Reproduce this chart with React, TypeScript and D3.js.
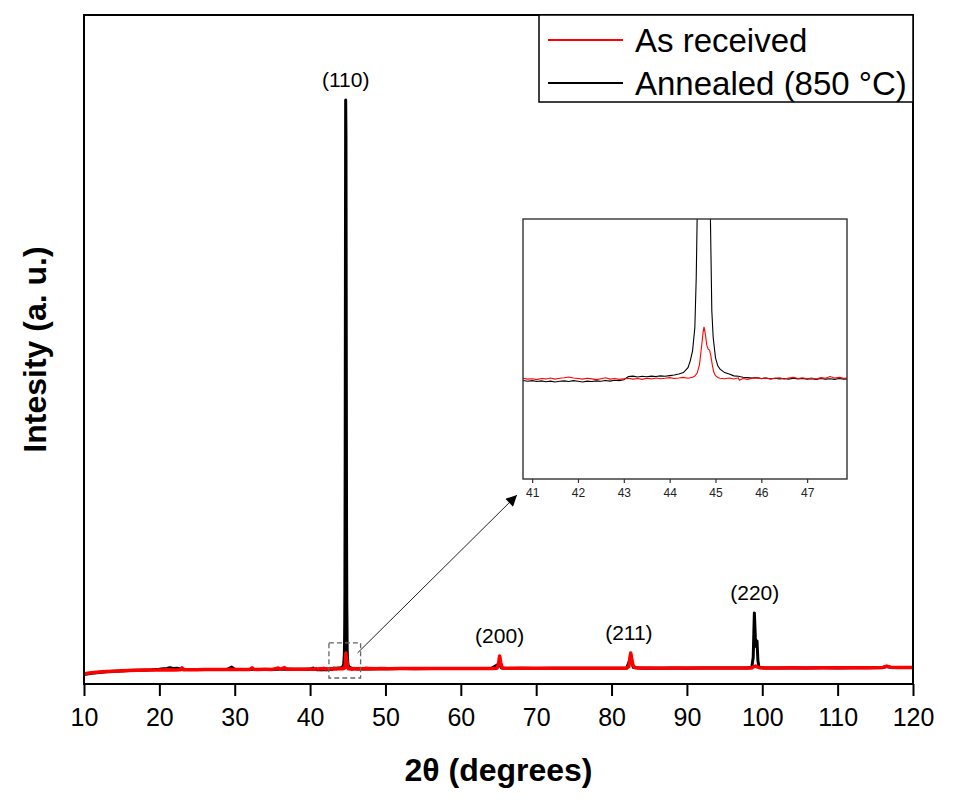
import React, { useEffect, useRef } from "react"
import * as d3 from "d3"

const seriesNames = ["As received", "Annealed (850 °C)"]
const seriesColors = ["#ff0000", "#000000"]

// diffraction scans, [2θ, counts]
const asReceived: [number, number][] = [
  [10, 150], [10.5, 160], [11, 168], [12, 178], [13, 186], [14, 192], [15, 198], [16, 200],
  [17, 204], [18, 206], [19, 208], [20, 210], [21, 212], [22, 211], [22.8, 214], [23.0, 240],
  [23.2, 212], [24, 214], [25, 213], [26, 216], [27, 215], [28, 216], [29, 217], [29.6, 222],
  [30, 217], [31, 218], [32, 218], [32.3, 242], [32.5, 219], [33, 218], [34, 219], [35, 218],
  [35.8, 240], [36, 220], [36.6, 245], [36.9, 221], [37, 220], [38, 221], [39, 220], [40, 222],
  [40.5, 221],
  [40.8, 228], [40.9, 224], [41.0, 226], [41.1, 222], [41.2, 227], [41.3, 225], [41.4, 229],
  [41.5, 224], [41.6, 228], [41.7, 230], [41.8, 234], [41.9, 229], [42.0, 227], [42.1, 224],
  [42.2, 228], [42.3, 225], [42.4, 222], [42.5, 226], [42.6, 230], [42.7, 224], [42.8, 227],
  [42.9, 223], [43.0, 226], [43.1, 228], [43.2, 224], [43.3, 227], [43.4, 223], [43.5, 228],
  [43.6, 225], [43.7, 229], [43.8, 226], [43.9, 228], [44.0, 231], [44.1, 227], [44.2, 229],
  [44.3, 232], [44.4, 228], [44.5, 233], [44.55, 238], [44.6, 252], [44.65, 290], [44.7, 380],
  [44.73, 440], [44.75, 464], [44.78, 430], [44.81, 380], [44.84, 362], [44.87, 358], [44.9, 330],
  [44.93, 290], [44.96, 258], [45.0, 240], [45.05, 232], [45.1, 228], [45.2, 226], [45.3, 229],
  [45.4, 225], [45.5, 230], [45.52, 219], [45.6, 227], [45.7, 223], [45.8, 228], [45.9, 231],
  [46.0, 226], [46.1, 229], [46.2, 224], [46.3, 228], [46.4, 230], [46.5, 225], [46.6, 229],
  [46.7, 232], [46.8, 227], [46.9, 230], [47.0, 226], [47.1, 229], [47.2, 225], [47.3, 231],
  [47.4, 228], [47.5, 236], [47.6, 229], [47.7, 232], [47.8, 228], [47.9, 230],
  [48.5, 228], [49.5, 230], [50.5, 229], [52, 231], [54, 230], [56, 232], [58, 231], [60, 233],
  [62, 232], [64, 233], [64.8, 236], [65.0, 300], [65.15, 420], [65.3, 320], [65.45, 250],
  [65.7, 236], [66.5, 234], [68, 235], [70, 234], [72, 236], [74, 235], [76, 236], [78, 237],
  [80, 236], [82, 237], [82.3, 260], [82.45, 400], [82.55, 464], [82.7, 360], [82.85, 280],
  [83.1, 245], [83.5, 238], [85, 238], [87, 237], [89, 239], [91, 238], [93, 239], [95, 240],
  [97, 239], [98.6, 240], [98.9, 262], [99.1, 268], [99.3, 255], [99.6, 244], [100, 241],
  [102, 240], [104, 242], [106, 241], [108, 243], [110, 242], [112, 243], [114, 244], [116, 248],
  [116.5, 268], [117, 252], [118, 247], [119, 246], [120, 248],
]

const annealed: [number, number][] = [
  [10, 140], [11, 160], [12, 172], [13, 182], [14, 190], [15, 196], [16, 200], [17, 205],
  [18, 208], [19, 212], [20, 220], [20.5, 228], [21, 232], [21.4, 245], [21.8, 232], [22.3, 236],
  [22.8, 226], [23.5, 218], [24.5, 216], [26, 215], [28, 216], [29, 218], [29.6, 252], [30, 220],
  [31, 217], [33, 217], [35, 218], [36.5, 224], [38, 220], [39, 221], [40, 223], [40.4, 238],
  [40.6, 222],
  [40.8, 218], [40.9, 214], [41.0, 217], [41.1, 213], [41.2, 216], [41.3, 212], [41.4, 215],
  [41.5, 211], [41.6, 214], [41.7, 216], [41.8, 213], [41.9, 217], [42.0, 214], [42.1, 211],
  [42.2, 215], [42.3, 213], [42.4, 216], [42.5, 214], [42.6, 218], [42.7, 215], [42.8, 219],
  [42.9, 217], [43.0, 221], [43.1, 236], [43.2, 238], [43.3, 234], [43.4, 237], [43.5, 235],
  [43.6, 238], [43.7, 236], [43.8, 239], [43.9, 237], [44.0, 240], [44.1, 243], [44.2, 248],
  [44.3, 254], [44.4, 277], [44.45, 308], [44.5, 354], [44.55, 461], [44.58, 690], [44.6, 960],
  [44.62, 1400], [44.66, 3500], [44.7, 7000], [44.72, 8730], [44.76, 8200], [44.8, 5000],
  [44.84, 2200], [44.87, 1200], [44.89, 960], [44.92, 538], [44.95, 415], [45.0, 323],
  [45.05, 285], [45.1, 270], [45.2, 254], [45.3, 248], [45.4, 239], [45.5, 237], [45.6, 233],
  [45.7, 231], [45.8, 229], [45.9, 231], [46.0, 227], [46.1, 229], [46.2, 226], [46.3, 228],
  [46.4, 225], [46.5, 227], [46.6, 224], [46.7, 228], [46.8, 225], [46.9, 227], [47.0, 224],
  [47.1, 226], [47.2, 223], [47.3, 227], [47.4, 224], [47.5, 226], [47.6, 223], [47.7, 227],
  [47.8, 224], [47.9, 226],
  [49, 227], [50, 229], [52, 230], [54, 229], [56, 231], [58, 230], [60, 232], [62, 231],
  [64, 232], [65.1, 300], [65.4, 240], [66, 233], [68, 234], [70, 233], [72, 235], [74, 234],
  [76, 235], [78, 236], [80, 235], [82, 236], [82.5, 380], [82.9, 245], [84, 237], [86, 237],
  [88, 238], [90, 237], [92, 238], [94, 239], [96, 238], [98, 239], [98.6, 245], [98.8, 400],
  [98.95, 1063], [99.08, 700], [99.2, 560], [99.3, 644], [99.42, 350], [99.55, 260], [99.8, 243],
  [100.5, 240], [102, 239], [104, 241], [106, 240], [108, 242], [110, 241], [112, 242],
  [114, 243], [116, 246], [116.5, 262], [117, 250], [118, 246], [120, 247],
]

const peakLabels = ["(110)", "(200)", "(211)", "(220)"]
const peakPositions = [44.72, 65.15, 82.3, 99.0]

const xTicks = [10, 20, 30, 40, 50, 60, 70, 80, 90, 100, 110, 120]
const insetTicks = [41, 42, 43, 44, 45, 46, 47]

// region magnified in the inset
const zoomTheta = [42.5, 46.7]
const zoomCounts = [90, 614]

const font = "'Liberation Sans', Arial, sans-serif"

export default function App() {
  const ref = useRef<SVGSVGElement | null>(null)

  useEffect(() => {
    const svg = d3.select(ref.current)
    svg.selectAll("*").remove()

    const left = 84, right = 913, top = 15, bottom = 684
    const x = d3.scaleLinear().domain([10, 120]).range([left, right])
    const y = d3.scaleLinear().domain([0, 10000]).range([bottom, top])

    svg.append("rect").attr("width", 953).attr("height", 800).attr("fill", "#fff")

    const series = [asReceived, annealed]

    // annealed first so the as-received trace sits on top
    const line = d3.line<[number, number]>().x(d => x(d[0])).y(d => y(d[1]))
    ;[1, 0].forEach(i => {
      svg.append("path")
        .attr("d", line(series[i]))
        .attr("fill", "none")
        .attr("stroke", seriesColors[i])
        .attr("stroke-width", i === 0 ? 3.5 : 3)
        .attr("stroke-linejoin", "round")
    })

    // frame
    svg.append("rect")
      .attr("x", left).attr("y", top)
      .attr("width", right - left).attr("height", bottom - top)
      .attr("fill", "none").attr("stroke", "#000").attr("stroke-width", 2)

    const xAxis = svg.append("g")
      .attr("transform", `translate(0,${bottom})`)
      .call(d3.axisBottom(x).tickValues(xTicks).tickSize(12).tickFormat(d3.format("d")))
    xAxis.select(".domain").remove()
    xAxis.selectAll("line").attr("stroke-width", 2)
    xAxis.selectAll("text")
      .attr("y", 42).attr("dy", 0)
      .style("font-family", font).style("font-size", "25px").attr("fill", "#000")

    svg.append("text")
      .attr("x", (left + right) / 2).attr("y", 781)
      .attr("text-anchor", "middle")
      .style("font-family", font).style("font-size", "32px").style("font-weight", "bold")
      .text("2θ (degrees)")

    svg.append("text")
      .attr("transform", `translate(46,${(top + bottom) / 2}) rotate(-90)`)
      .attr("text-anchor", "middle")
      .style("font-family", font).style("font-size", "32px").style("font-weight", "bold")
      .text("Intesity (a. u.)")

    // peak indexing
    peakLabels.forEach((label, i) => {
      const p = peakPositions[i]
      const near = series.flat().filter(d => Math.abs(d[0] - p) < 0.6)
      const peak = d3.max(near, d => d[1]) as number
      svg.append("text")
        .attr("x", x(p)).attr("y", y(peak) - 13)
        .attr("text-anchor", "middle")
        .style("font-family", font).style("font-size", "21px")
        .text(label)
    })

    // dashed box around the (110) foot
    const bx0 = x(zoomTheta[0]), bx1 = x(zoomTheta[1])
    const by0 = y(zoomCounts[1]), by1 = y(zoomCounts[0])
    svg.append("rect")
      .attr("x", bx0).attr("y", by0)
      .attr("width", bx1 - bx0).attr("height", by1 - by0)
      .attr("fill", "none").attr("stroke", "#666").attr("stroke-width", 1.3)
      .attr("stroke-dasharray", "5,3")

    // inset
    const il = 523, ir = 847, it = 219, ib = 479
    const ix = d3.scaleLinear().domain([40.8, 47.87]).range([il, ir])
    const iy = d3.scaleLinear().domain([-235, 960]).range([ib, it])

    svg.append("defs").append("marker")
      .attr("id", "head")
      .attr("viewBox", "0 0 10 10")
      .attr("refX", 10).attr("refY", 5)
      .attr("markerWidth", 16).attr("markerHeight", 11)
      .attr("markerUnits", "userSpaceOnUse")
      .attr("orient", "auto")
      .append("path").attr("d", "M0,0L10,5L0,10Z").attr("fill", "#000")

    svg.append("line")
      .attr("x1", bx1 - 3).attr("y1", by0 + 10)
      .attr("x2", il - 6).attr("y2", ib + 16)
      .attr("stroke", "#222").attr("stroke-width", 1)
      .attr("marker-end", "url(#head)")

    svg.select("defs").append("clipPath").attr("id", "insetClip")
      .append("rect").attr("x", il).attr("y", it).attr("width", ir - il).attr("height", ib - it)

    const inset = svg.append("g")
    inset.append("rect")
      .attr("x", il).attr("y", it).attr("width", ir - il).attr("height", ib - it)
      .attr("fill", "#fff")

    const iline = d3.line<[number, number]>().x(d => ix(d[0])).y(d => iy(d[1]))
    ;[1, 0].forEach(i => {
      inset.append("path")
        .attr("clip-path", "url(#insetClip)")
        .attr("d", iline(series[i].filter(d => d[0] >= 40.7 && d[0] <= 48)))
        .attr("fill", "none")
        .attr("stroke", seriesColors[i])
        .attr("stroke-width", 1.1)
    })

    inset.append("rect")
      .attr("x", il).attr("y", it).attr("width", ir - il).attr("height", ib - it)
      .attr("fill", "none").attr("stroke", "#333").attr("stroke-width", 1.4)

    const iAxis = inset.append("g")
      .attr("transform", `translate(0,${ib})`)
      .call(d3.axisBottom(ix).tickValues(insetTicks).tickSize(4).tickFormat(d3.format("d")))
    iAxis.select(".domain").remove()
    iAxis.selectAll("line").attr("stroke", "#333").attr("stroke-width", 1.2)
    iAxis.selectAll("text")
      .attr("y", 18).attr("dy", 0)
      .style("font-family", font).style("font-size", "12px").attr("fill", "#222")

    // legend
    const legend = svg.append("g")
    legend.append("rect")
      .attr("x", 539).attr("y", top)
      .attr("width", right - 539).attr("height", 87)
      .attr("fill", "#fff").attr("stroke", "#000").attr("stroke-width", 1.5)
    seriesNames.forEach((name, i) => {
      const ry = 40 + i * 43
      legend.append("line")
        .attr("x1", 548).attr("x2", 623).attr("y1", ry).attr("y2", ry)
        .attr("stroke", seriesColors[i]).attr("stroke-width", 2)
      legend.append("text")
        .attr("x", 635).attr("y", ry + 12)
        .style("font-family", font).style("font-size", "33px")
        .text(name)
    })
  }, [])

  return (
    <svg
      ref={ref}
      width={953}
      height={800}
      style={{ position: "absolute", left: 0, top: 0, display: "block" }}
    />
  )
}
